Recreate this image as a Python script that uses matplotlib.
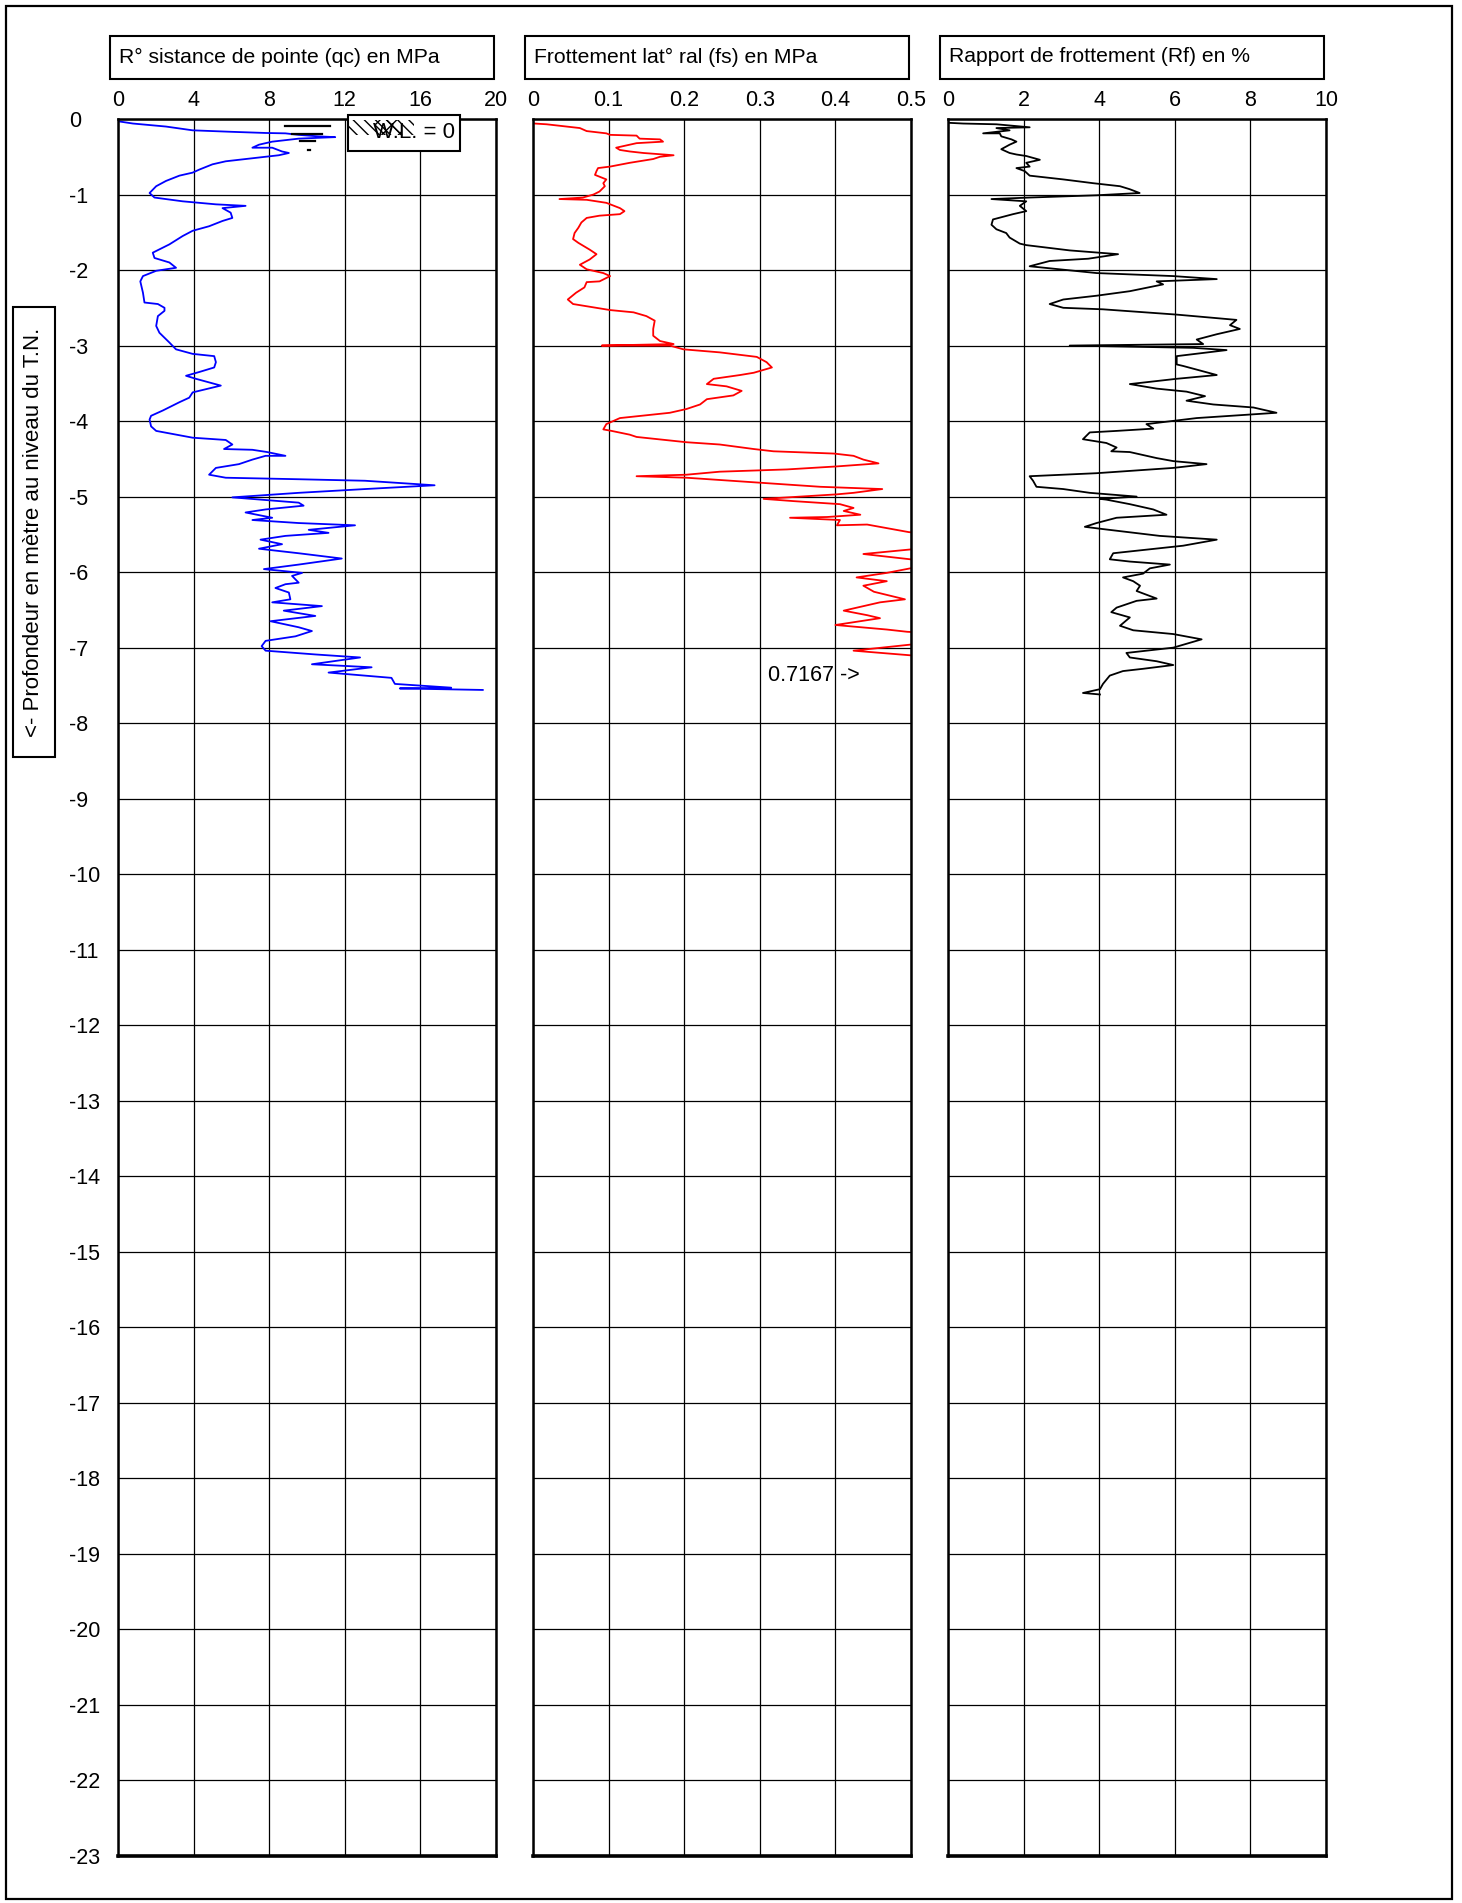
import numpy as np
import matplotlib
matplotlib.use("Agg")
import matplotlib.pyplot as plt
from matplotlib.patches import Rectangle

plt.rcParams['font.family'] = ['Liberation Sans', 'DejaVu Sans']

# --- data (depth in m, negative downwards) ---
qc_depth = [-0.03, -0.06, -0.10, -0.15, -0.17, -0.185, -0.19, -0.21, -0.23, -0.24,
            -0.26, -0.30, -0.34, -0.38, -0.38, -0.43, -0.45, -0.48, -0.50, -0.54,
            -0.56, -0.60, -0.67, -0.71, -0.75, -0.82, -0.89, -0.98, -1.04, -1.09,
            -1.13, -1.15, -1.18, -1.24, -1.31, -1.35, -1.42, -1.48, -1.55, -1.66,
            -1.77, -1.84, -1.90, -1.97, -2.01, -2.08, -2.15, -2.30, -2.43, -2.45,
            -2.50, -2.54, -2.61, -2.74, -2.83, -2.96, -3.05, -3.11, -3.14, -3.22,
            -3.29, -3.35, -3.40, -3.44, -3.53, -3.62, -3.69, -3.75, -3.86, -3.93,
            -3.98, -4.07, -4.13, -4.22, -4.25, -4.31, -4.37, -4.38, -4.41, -4.46,
            -4.46, -4.51, -4.57, -4.62, -4.71, -4.75, -4.77, -4.79, -4.85, -4.90,
            -4.95, -5.01, -5.08, -5.12, -5.17, -5.21, -5.28, -5.31, -5.35, -5.38,
            -5.44, -5.48, -5.52, -5.57, -5.63, -5.69, -5.75, -5.82, -5.90, -5.96,
            -6.01, -6.05, -6.14, -6.16, -6.21, -6.27, -6.36, -6.40, -6.45, -6.51,
            -6.58, -6.65, -6.73, -6.78, -6.85, -6.91, -6.98, -7.04, -7.09, -7.13,
            -7.22, -7.26, -7.33, -7.40, -7.48, -7.53, -7.54, -7.56]
qc = [0.00, 0.79, 2.54, 3.95, 6.05, 7.81, 8.86, 9.56, 10.61, 11.49,
      9.56, 8.16, 7.46, 7.11, 8.16, 8.68, 9.04, 8.51, 7.81, 6.40,
      5.70, 5.00, 4.30, 3.95, 3.25, 2.54, 2.02, 1.67, 1.93, 3.42,
      5.18, 6.75, 5.53, 5.96, 6.05, 5.53, 4.82, 3.95, 3.42, 2.72,
      1.84, 1.93, 2.72, 3.07, 2.02, 1.32, 1.18, 1.32, 1.40, 2.11,
      2.46, 2.46, 2.11, 2.02, 2.19, 2.72, 3.07, 3.95, 5.09, 5.18,
      5.09, 4.30, 3.60, 4.12, 5.44, 3.95, 3.77, 3.25, 2.37, 1.75,
      1.67, 1.75, 2.02, 3.95, 5.70, 6.05, 5.61, 7.11, 7.89, 8.86,
      7.81, 7.11, 6.40, 5.18, 4.82, 5.70, 9.56, 13.07, 16.75, 13.07,
      9.56, 6.05, 9.56, 9.82, 7.81, 6.75, 8.16, 7.11, 9.56, 12.54,
      10.09, 11.14, 8.86, 7.54, 8.68, 7.46, 9.56, 11.84, 9.56, 7.72,
      9.74, 9.21, 9.56, 8.86, 8.33, 9.04, 9.12, 8.16, 10.79, 8.77,
      10.44, 8.07, 9.56, 10.26, 9.39, 7.81, 7.60, 7.81, 10.44, 12.81,
      10.26, 13.42, 11.14, 14.47, 14.65, 17.63, 14.91, 19.30]

fs_depth = [-0.06, -0.07, -0.12, -0.16, -0.19, -0.21, -0.22, -0.26, -0.27, -0.30,
            -0.32, -0.38, -0.41, -0.43, -0.45, -0.48, -0.50, -0.53, -0.58, -0.63,
            -0.65, -0.69, -0.74, -0.80, -0.85, -0.89, -0.96, -1.00, -1.04, -1.06,
            -1.07, -1.11, -1.18, -1.22, -1.26, -1.28, -1.31, -1.37, -1.44, -1.51,
            -1.59, -1.64, -1.73, -1.79, -1.86, -1.93, -1.99, -2.04, -2.08, -2.15,
            -2.16, -2.23, -2.30, -2.39, -2.45, -2.53, -2.56, -2.61, -2.67, -2.78,
            -2.87, -2.94, -2.98, -3.00, -3.00, -3.05, -3.09, -3.15, -3.22, -3.29,
            -3.36, -3.39, -3.44, -3.51, -3.54, -3.60, -3.66, -3.71, -3.78, -3.84,
            -3.89, -3.96, -4.04, -4.11, -4.13, -4.18, -4.21, -4.28, -4.31, -4.37,
            -4.40, -4.43, -4.46, -4.51, -4.56, -4.60, -4.64, -4.67, -4.71, -4.73,
            -4.75, -4.81, -4.87, -4.90, -4.95, -4.97, -5.03, -5.06, -5.10, -5.15,
            -5.19, -5.24, -5.27, -5.28, -5.31, -5.38, -5.37, -5.47, -5.57, -5.65,
            -5.70, -5.76, -5.83, -5.90, -5.95, -6.01, -6.07, -6.12, -6.18, -6.26,
            -6.36, -6.40, -6.51, -6.57, -6.61, -6.70, -6.76, -6.79, -6.87, -6.96,
            -7.04, -7.10, -7.20, -7.40, -7.56]
fs = [0.002, 0.018, 0.062, 0.071, 0.097, 0.102, 0.137, 0.141, 0.168, 0.172,
      0.137, 0.110, 0.115, 0.128, 0.146, 0.186, 0.168, 0.159, 0.128, 0.102,
      0.086, 0.084, 0.082, 0.097, 0.093, 0.095, 0.088, 0.080, 0.066, 0.035,
      0.071, 0.097, 0.115, 0.121, 0.115, 0.088, 0.071, 0.064, 0.060, 0.055,
      0.053, 0.060, 0.075, 0.084, 0.075, 0.062, 0.071, 0.093, 0.102, 0.088,
      0.071, 0.068, 0.057, 0.046, 0.053, 0.102, 0.133, 0.150, 0.161, 0.159,
      0.159, 0.168, 0.186, 0.091, 0.181, 0.199, 0.247, 0.296, 0.309, 0.316,
      0.292, 0.274, 0.239, 0.230, 0.256, 0.276, 0.265, 0.230, 0.221, 0.203,
      0.181, 0.115, 0.097, 0.093, 0.104, 0.128, 0.137, 0.203, 0.247, 0.292,
      0.318, 0.398, 0.424, 0.437, 0.457, 0.402, 0.336, 0.247, 0.203, 0.137,
      0.203, 0.292, 0.380, 0.462, 0.424, 0.402, 0.305, 0.345, 0.406, 0.424,
      0.411, 0.433, 0.389, 0.340, 0.406, 0.402, 0.442, 0.497, 0.600, 0.560,
      0.499, 0.437, 0.499, 0.580, 0.499, 0.468, 0.428, 0.468, 0.437, 0.451,
      0.492, 0.459, 0.411, 0.442, 0.459, 0.400, 0.468, 0.495, 0.645, 0.499,
      0.424, 0.497, 0.620, 0.7167, 0.680]
fs_max_label = "0.7167 ->"

rf_depth = [-0.05, -0.06, -0.07, -0.11, -0.12, -0.15, -0.19, -0.19, -0.23, -0.27,
            -0.30, -0.34, -0.40, -0.45, -0.47, -0.49, -0.54, -0.58, -0.63, -0.65,
            -0.69, -0.75, -0.80, -0.85, -0.89, -0.93, -0.98, -1.01, -1.04, -1.06,
            -1.09, -1.15, -1.22, -1.26, -1.33, -1.40, -1.46, -1.51, -1.57, -1.65,
            -1.67, -1.74, -1.79, -1.85, -1.88, -1.95, -2.04, -2.08, -2.12, -2.15,
            -2.19, -2.28, -2.34, -2.39, -2.45, -2.50, -2.52, -2.59, -2.66, -2.73,
            -2.78, -2.85, -2.92, -2.98, -3.00, -3.03, -3.06, -3.14, -3.25, -3.27,
            -3.39, -3.44, -3.51, -3.57, -3.61, -3.67, -3.73, -3.78, -3.82, -3.89,
            -3.93, -3.96, -4.04, -4.10, -4.13, -4.15, -4.24, -4.29, -4.35, -4.40,
            -4.41, -4.49, -4.53, -4.57, -4.62, -4.69, -4.73, -4.79, -4.87, -4.90,
            -4.95, -5.00, -5.03, -5.04, -5.10, -5.17, -5.24, -5.28, -5.35, -5.40,
            -5.43, -5.52, -5.54, -5.57, -5.65, -5.75, -5.83, -5.86, -5.90, -5.95,
            -6.02, -6.07, -6.12, -6.18, -6.25, -6.35, -6.38, -6.47, -6.53, -6.60,
            -6.71, -6.77, -6.82, -6.89, -7.00, -7.07, -7.13, -7.18, -7.23, -7.28,
            -7.31, -7.37, -7.48, -7.55, -7.60, -7.62]
rf = [0.00, 0.40, 1.28, 2.16, 1.28, 1.63, 0.93, 1.37, 1.41, 1.68,
      1.81, 1.63, 1.41, 1.63, 1.81, 2.07, 2.43, 2.07, 2.16, 1.81,
      2.03, 2.16, 3.05, 3.84, 4.55, 4.81, 5.07, 3.93, 2.16, 1.15,
      2.07, 1.90, 2.07, 1.72, 1.19, 1.15, 1.28, 1.54, 1.63, 1.90,
      2.07, 3.22, 4.50, 3.71, 2.69, 2.16, 3.93, 5.96, 7.11, 5.52,
      5.69, 4.81, 3.93, 3.05, 2.69, 3.05, 4.10, 6.05, 7.63, 7.46,
      7.72, 7.11, 6.58, 6.75, 3.22, 6.49, 7.37, 6.05, 6.05, 6.22,
      7.11, 6.05, 4.81, 5.52, 6.31, 6.80, 6.31, 7.02, 8.08, 8.69,
      7.46, 6.58, 5.25, 5.43, 4.46, 3.75, 3.57, 4.19, 4.46, 4.32,
      4.81, 5.52, 5.96, 6.84, 5.96, 3.93, 2.16, 2.25, 2.34, 3.05,
      3.75, 4.99, 4.02, 4.19, 4.81, 5.43, 5.78, 4.46, 3.93, 3.62,
      4.10, 5.60, 6.22, 7.11, 6.22, 4.37, 4.28, 4.81, 5.87, 5.34,
      5.16, 4.63, 4.90, 5.08, 4.99, 5.52, 4.99, 4.46, 4.32, 4.81,
      4.55, 4.90, 5.96, 6.71, 5.96, 4.72, 4.81, 5.52, 5.96, 5.16,
      4.63, 4.28, 4.10, 4.02, 3.57, 4.02]

titles = ["R° sistance de pointe (qc) en MPa",
          "Frottement lat° ral (fs) en MPa",
          "Rapport de frottement (Rf) en %"]
x_ticks = [[0, 4, 8, 12, 16, 20],
           [0, 0.1, 0.2, 0.3, 0.4, 0.5],
           [0, 2, 4, 6, 8, 10]]
x_labels = [["0", "4", "8", "12", "16", "20"],
            ["0", "0.1", "0.2", "0.3", "0.4", "0.5"],
            ["0", "2", "4", "6", "8", "10"]]
depth_ticks = list(range(0, -24, -1))
ylabel = "<- Profondeur en mètre au niveau du T.N."
wl_label = "W.L. = 0"

# --- figure ---
W, H = 1462, 1903
fig = plt.figure(figsize=(W / 100, H / 100), dpi=100)

def fx(px):
    return px / W

def fy(py):
    return 1 - py / H

# outer frame
fig.patches.append(Rectangle((fx(6), fy(1899)), fx(1452 - 6), (1899 - 6) / H,
                             transform=fig.transFigure, fill=False, lw=1.6,
                             edgecolor='black'))

lefts = [118, 533, 948]
box_lefts = [110, 525, 940]
series = [(qc, qc_depth, '#0000ff'), (fs, fs_depth, '#ff0000'), (rf, rf_depth, 'black')]
axes = []
for i in range(3):
    ax = fig.add_axes([fx(lefts[i]), fy(1856), fx(378), (1856 - 119) / H])
    xs, ys, col = series[i]
    ax.plot(xs, ys, color=col, lw=1.3)
    ax.set_xlim(x_ticks[i][0], x_ticks[i][-1])
    ax.set_ylim(-23, 0)
    ax.xaxis.tick_top()
    ax.set_xticks(x_ticks[i])
    ax.set_xticklabels(x_labels[i])
    ax.set_yticks(depth_ticks)
    ax.tick_params(axis='both', length=0, labelsize=15.5)
    ax.tick_params(axis='x', pad=6)
    if i == 0:
        ax.set_yticklabels([str(d) for d in depth_ticks])
        ax.tick_params(axis='y', pad=35)
        for lbl in ax.get_yticklabels():
            lbl.set_horizontalalignment('left')
    else:
        ax.set_yticklabels([])
    ax.grid(True, color='black', lw=0.9)
    for s in ax.spines.values():
        s.set_linewidth(1.8)
    ax.spines['bottom'].set_linewidth(2.6)
    # header box
    fig.patches.append(Rectangle((fx(box_lefts[i]), fy(79)), fx(384), 43 / H,
                                 transform=fig.transFigure, fill=False, lw=1.5,
                                 edgecolor='black'))
    fig.text(fx(box_lefts[i] + 9), fy(57), titles[i], fontsize=15.2, va='center', ha='left')
    axes.append(ax)

# water level symbol + legend box in first panel
ax = axes[0]
for x0, x1, y in [(0.441, 0.560, 0.9957), (0.459, 0.539, 0.9914),
                  (0.481, 0.520, 0.9872), (0.502, 0.507, 0.9823)]:
    ax.plot([x0, x1], [y, y], color='black', lw=1.6, transform=ax.transAxes,
            clip_on=False)
ax.add_patch(Rectangle((0.608, 0.9818), 0.296, 0.0207, transform=ax.transAxes,
                       facecolor='white', edgecolor='black', lw=1.5, clip_on=False,
                       zorder=5))
ax.add_patch(Rectangle((0.612, 0.991), 0.17, 0.0085, transform=ax.transAxes,
                       facecolor='none', edgecolor='black', lw=0, hatch='\\\\\\',
                       clip_on=False, zorder=6))
ax.add_patch(Rectangle((0.68, 0.991), 0.07, 0.0085, transform=ax.transAxes,
                       facecolor='none', edgecolor='black', lw=0, hatch='xx',
                       clip_on=False, zorder=6))
ax.text(0.674, 0.9925, wl_label, transform=ax.transAxes, fontsize=16,
        va='center', ha='left', zorder=7)

# max value marker in the fs panel
axes[1].text(0.311, -7.37, fs_max_label, fontsize=15.5, va='center', ha='left')

# y-axis label box
fig.patches.append(Rectangle((fx(13), fy(757)), fx(42), (757 - 307) / H,
                             transform=fig.transFigure, fill=False, lw=1.5,
                             edgecolor='black'))
fig.text(fx(34), fy(532), ylabel, rotation=90, fontsize=16, va='center', ha='center')

fig.savefig("out.png", dpi=100)
